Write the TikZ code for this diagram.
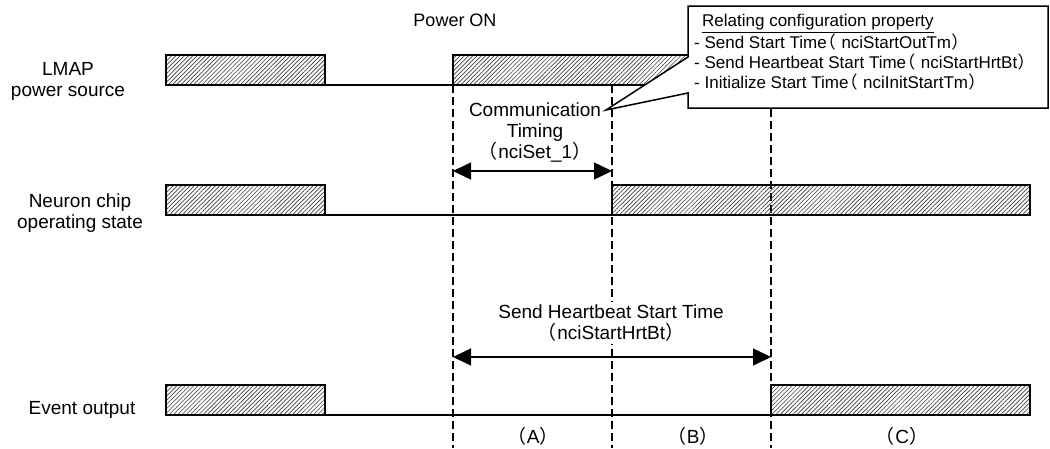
\documentclass[tikz,border=0pt]{standalone}
\usepackage{fontspec}
\setmainfont{Liberation Sans}
\newfontfamily\cjkfont[RawFeature=+palt]{Noto Sans CJK JP}
\usetikzlibrary{arrows.meta,patterns.meta}
\newcommand{\zlp}{{\cjkfont （}\kern1.5pt}
\newcommand{\zrp}{\kern1pt{\cjkfont ）}}

\begin{document}
\begin{tikzpicture}[x=1pt,y=-1pt,
  hatchbar/.style={draw=custcol_0_0_0,line width=1.6pt,pattern={Lines[angle=45,distance=3pt,line width=0.65pt]},pattern color=custcol_hatch},
  lowline/.style={draw=custcol_0_0_0,line width=1.4pt},
  guide/.style={draw=custcol_0_0_0,line width=1.4pt,dash pattern=on 8pt off 4pt},
  span/.style={draw=custcol_0_0_0,line width=1.5pt,{Triangle[length=18pt,width=17pt]}-{Triangle[length=18pt,width=17pt]}},
  lbl/.style={inner sep=0pt,align=center,font=\fontsize{19pt}{21pt}\selectfont},
  notetext/.style={inner sep=0pt,align=left,font=\fontsize{17pt}{20pt}\selectfont}]
\useasboundingbox (0,0) rectangle (1050,448);
\definecolor{custcol_0_0_0}{RGB}{0,0,0}
\definecolor{custcol_hatch}{RGB}{60,60,60}
\definecolor{custcol_ff_ff_ff}{RGB}{255,255,255}
\draw [guide] (453,85) -- (453,448);
\draw [guide] (612,85) -- (612,448);
\draw [guide] (771,85) -- (771,448);
% LMAP power source
\draw [lowline] (325,85) -- (453,85);
\draw [hatchbar] (166,55) rectangle (325,85);
\draw [hatchbar] (453,55) rectangle (1030,85);
% Neuron chip
\draw [lowline] (325,215) -- (612,215);
\draw [hatchbar] (166,185) rectangle (325,215);
\draw [hatchbar] (612,185) rectangle (1030,215);
% Event output
\draw [lowline] (325,415) -- (771,415);
\draw [hatchbar] (166,385) rectangle (325,415);
\draw [hatchbar] (771,385) rectangle (1030,415);
\node [lbl] (lmap) at (68,81) {LMAP\\power source};
\node [lbl] (neuron) at (80,213) {Neuron chip\\operating state};
\node [lbl] (event) at (82,410) {Event output};
\node [lbl,font=\fontsize{18pt}{20pt}\selectfont] (poweron) at (455,20) {Power ON};
\node [lbl] (commtiming) at (535,132) {Communication\\Timing\\\zlp nciSet\_1\zrp};
\node [lbl,fill=custcol_ff_ff_ff,inner sep=3pt] (hrtbt) at (611,323) {Send Heartbeat Start Time\\\zlp nciStartHrtBt\zrp};
\coordinate (comm_l) at (453,171);
\coordinate (comm_r) at (612,171);
\draw [span] (comm_l) -- (comm_r);
\coordinate (hrtbt_l) at (453,357);
\coordinate (hrtbt_r) at (771,357);
\draw [span] (hrtbt_l) -- (hrtbt_r);
\node [lbl] (pa) at (533,436) {\zlp A\zrp};
\node [lbl] (pb) at (693,436) {\zlp B\zrp};
\node [lbl] (pc) at (902,436) {\zlp C\zrp};
% callout
\coordinate (tip) at (606,110);
\draw [line width=1.5pt, custcol_0_0_0, fill=custcol_ff_ff_ff] (688,6) -- (1048,6) -- (1048,108) -- (688,108) -- (688,93) -- (tip) -- (688,57) -- cycle;
\node [notetext,anchor=base west] (note) at (694,88) {\hspace*{8pt}\underline{Relating configuration property}\\- Send Start Time\zlp\ nciStartOutTm\zrp\\- Send Heartbeat Start Time\zlp\ nciStartHrtBt\zrp\\- Initialize Start Time\zlp\ nciInitStartTm\zrp};
\end{tikzpicture}
\end{document}
